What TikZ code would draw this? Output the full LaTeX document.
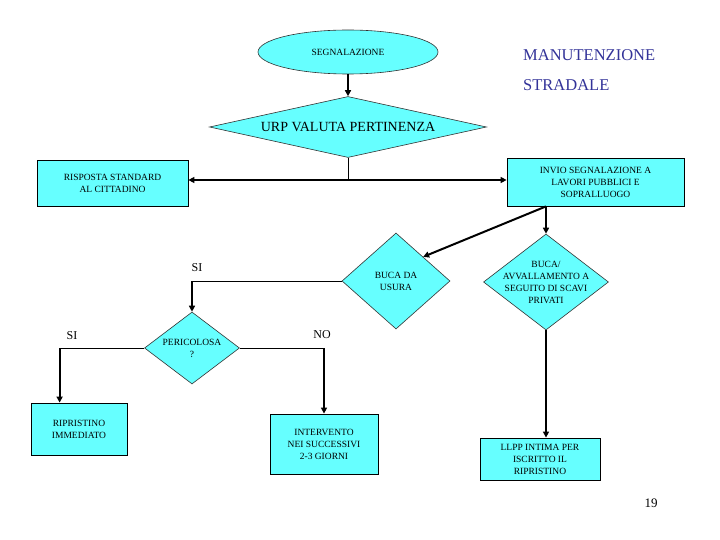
\documentclass[tikz,border=0pt]{standalone}
\usepackage{fontspec}
\setmainfont{Liberation Serif}
\usetikzlibrary{shapes.geometric,arrows.meta}
\definecolor{fillc}{RGB}{102,255,255}
\definecolor{titlec}{RGB}{51,51,153}
\tikzset{
  boxtxt/.style={font=\fontsize{9.5}{12}\selectfont, align=center},
  box/.style={draw=black, line width=0.8pt, fill=fillc, inner sep=0pt, boxtxt},
  dia/.style={diamond, draw=black!80, line width=0.6pt, fill=fillc, inner sep=0pt, boxtxt},
  thinline/.style={line width=1pt},
  thickarrow/.style={line width=2pt, -{Triangle[length=6pt,width=6pt]}},
  lbl/.style={font=\fontsize{12}{14}\selectfont, inner sep=0pt},
  title/.style={text=titlec, font=\fontsize{16.5}{18}\selectfont, anchor=west, inner sep=0pt}
}
\begin{document}
\begin{tikzpicture}[x=1pt,y=-1pt]
\useasboundingbox (0,0) rectangle (720,540);
\fill[white] (0,0) rectangle (720,540);

\node[ellipse, draw=black!80, line width=0.6pt, fill=fillc, minimum width=180pt, minimum height=44pt, inner sep=0pt, boxtxt] (seg) at (348,52) {SEGNALAZIONE};
\node[title] (t1) at (523,55) {MANUTENZIONE};
\node[title] (t2) at (523,85) {STRADALE};

\node[dia, aspect=4.54, minimum width=277pt, minimum height=61pt, font=\fontsize{14}{16}\selectfont] (urp) at (348,127) {URP VALUTA PERTINENZA};

\node[box, minimum width=151pt, minimum height=46pt] (risp) at (112.5,183) {RISPOSTA STANDARD\\AL CITTADINO};
\node[box, minimum width=177pt, minimum height=48pt] (invio) at (595.5,182) {INVIO SEGNALAZIONE A\\LAVORI PUBBLICI E\\SOPRALLUOGO};

\node[dia, aspect=1.125, minimum width=108pt, minimum height=96pt] (usura) at (396,281) {BUCA DA\\USURA};
\node[dia, aspect=1.3, minimum width=125pt, minimum height=96pt] (buca) at (546,282) {};
\node[boxtxt, inner sep=0pt] (bucatxt) at (buca.center) {BUCA/\\AVVALLAMENTO A\\SEGUITO DI SCAVI\\PRIVATI};

\node[dia, aspect=1.32, minimum width=95pt, minimum height=72pt] (peric) at (192,348) {PERICOLOSA\\?};

\node[box, minimum width=96pt, minimum height=52pt] (ripr) at (79,429) {RIPRISTINO\\IMMEDIATO};
\node[box, minimum width=108pt, minimum height=60pt] (interv) at (324,444) {INTERVENTO\\NEI SUCCESSIVI\\2-3 GIORNI};
\node[box, minimum width=120pt, minimum height=42pt] (llpp) at (540,459) {LLPP INTIMA PER\\ISCRITTO IL\\RIPRISTINO};

\node[font=\fontsize{13}{15}\selectfont, inner sep=0pt] (pg) at (651,503) {19};

% connectors
\coordinate (j) at (348,180);
\draw[thickarrow] (seg.south) -- (urp.north);
\draw[thinline] (urp.south) -- (j);
\draw[line width=2pt, {Triangle[length=6pt,width=6pt]}-{Triangle[length=6pt,width=6pt]}] (j -| risp.east) -- (j -| invio.west);

\coordinate (ib) at (invio.south -| buca.north);
\draw[thickarrow] (ib) -- (buca.north);
\draw[thickarrow] (ib) -- (usura.north east);

\coordinate (c1) at (peric.north |- usura.west);
\draw[thinline] (usura.west) -- (c1);
\draw[thickarrow] (c1) -- (peric.north);
\node[lbl] (si1) at (197,268) {SI};

\coordinate (c2) at (interv.north |- peric.east);
\draw[thinline] (peric.east) -- (c2);
\draw[thickarrow] (c2) -- (interv.north);
\node[lbl] (no) at (322,335) {NO};

\coordinate (rtop) at ([xshift=29pt]ripr.north west);
\coordinate (c3) at (rtop |- peric.west);
\draw[thinline] (peric.west) -- (c3);
\draw[thickarrow] (c3) -- (rtop);
\node[lbl] (si2) at (72,336) {SI};

\draw[thickarrow] (buca.south) -- (llpp.north -| buca.south);
\end{tikzpicture}
\end{document}
